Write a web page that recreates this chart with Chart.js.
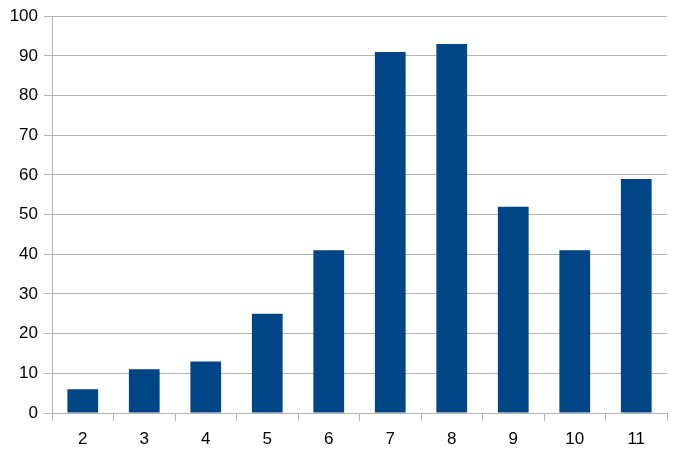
<!DOCTYPE html>
<html><head><meta charset="utf-8">
<script src="https://cdn.jsdelivr.net/npm/chart.js@4"></script>
<style>html,body{margin:0;padding:0;background:#fff}#wrap{width:680px;height:452px}</style>
</head><body><div id="wrap"><canvas id="c" width="680" height="452"></canvas></div>
<script>
const categories = ["2","3","4","5","6","7","8","9","10","11"];
const values = [6, 11, 13, 25, 41, 91, 93, 52, 41, 59];
const yMin = 0, yMax = 100, yStep = 10;

new Chart(document.getElementById('c'), {
  type: 'bar',
  data: { labels: categories, datasets: [{ data: values, backgroundColor: '#004586', barPercentage: 0.5, categoryPercentage: 1.0 }] },
  options: {
    responsive: false, animation: false, devicePixelRatio: 1,
    layout: { padding: { top: 14.5, right: 13, bottom: 0, left: 0 } },
    plugins: { legend: { display: false }, tooltip: { enabled: false } },
    scales: {
      x: {
        offset: true,
        grid: { offset: true, drawOnChartArea: false, drawTicks: true, tickLength: 8, color: '#b3b3b3' },
        border: { color: '#b3b3b3' },
        ticks: { color: '#000', font: { family: 'Liberation Sans', size: 17 }, padding: 8, maxRotation: 0 },
        afterFit: s => { s.height = 39; }
      },
      y: {
        min: yMin, max: yMax,
        grid: { color: '#b3b3b3', tickLength: 8 },
        border: { color: '#b3b3b3' },
        ticks: { stepSize: yStep, color: '#000', font: { family: 'Liberation Sans', size: 17 }, padding: 6 },
        afterFit: s => { s.width = 52; }
      }
    }
  }
});
</script></body></html>
